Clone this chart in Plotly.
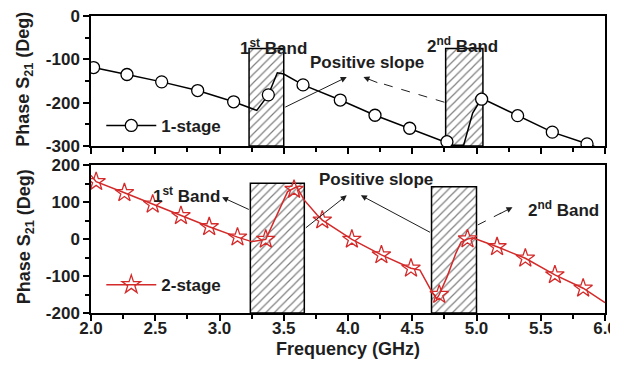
import plotly.graph_objects as go

# ---------------- data ----------------
# 1-stage (top panel)
top_line_x = [2.00, 2.02, 2.28, 2.55, 2.83, 3.11, 3.29, 3.38, 3.45, 3.50, 3.65, 3.94, 4.21, 4.48,
              4.77, 4.82, 4.90, 4.97, 5.04, 5.32, 5.59, 5.86, 6.00]
top_line_y = [-115, -119, -135, -152, -172, -198, -218, -182, -131, -134, -159, -194, -229, -259,
              -292, -298, -298, -224, -190, -230, -268, -295, -310]
top_mark_x = [2.02, 2.28, 2.55, 2.83, 3.11, 3.38, 3.65, 3.94, 4.21, 4.48, 4.77, 5.04, 5.32, 5.59, 5.86]
top_mark_y = [-119, -135, -152, -172, -198, -182, -159, -194, -229, -259, -290, -192, -230, -268, -295]

# 2-stage (bottom panel)
bot_line_x = [2.00, 2.04, 2.26, 2.48, 2.70, 2.92, 3.14, 3.25, 3.36, 3.45, 3.53, 3.60, 3.66, 3.76,
              3.80, 4.03, 4.26, 4.49, 4.56, 4.64, 4.69, 4.71, 4.77, 4.84, 4.88, 4.93, 4.97, 5.16,
              5.38, 5.61, 5.83, 6.00]
bot_line_y = [172, 155, 125, 94, 63, 33, 5, -7, -1, 70, 128, 141, 105, 65,
              51, -1, -43, -79, -84, -135, -162, -150, -103, -38, -8, 0, 3, -21,
              -52, -97, -133, -172]
bot_mark_x = [2.04, 2.26, 2.48, 2.70, 2.92, 3.14, 3.36, 3.58, 3.80, 4.03, 4.26, 4.49, 4.71, 4.93,
              5.16, 5.38, 5.61, 5.83]
bot_mark_y = [155, 125, 94, 63, 33, 5, -1, 134, 51, -1, -43, -79, -150, 0, -21, -52, -97, -133]

# hatched band boxes
top_band_start = [3.23, 4.76]
top_band_end = [3.50, 5.05]
top_band_low = [-300, -300]
top_band_high = [-75, -75]
bot_band_start = [3.24, 4.65]
bot_band_end = [3.66, 5.00]
bot_band_low = [-200, -200]
bot_band_high = [151, 141]

# ticks
x_ticks = [2.0, 2.5, 3.0, 3.5, 4.0, 4.5, 5.0, 5.5, 6.0]
x_tick_text = ["2.0", "2.5", "3.0", "3.5", "4.0", "4.5", "5.0", "5.5", "6.0"]
top_y_ticks = [0, -100, -200, -300]
top_y_tick_text = ["0", "-100", "-200", "-300"]
bot_y_ticks = [200, 100, 0, -100, -200]
bot_y_tick_text = ["200", "100", "0", "-100", "-200"]

FONT = "Arial, Liberation Sans, sans-serif"
INK = "#1e1e1e"
RED = "#d42a2a"

fig = go.Figure()


def band_bar(starts, ends, lows, highs, xa, ya):
    return go.Bar(
        x=[(s + e) / 2 for s, e in zip(starts, ends)],
        width=[e - s for s, e in zip(starts, ends)],
        base=lows,
        y=[h - l for h, l in zip(highs, lows)],
        xaxis=xa, yaxis=ya, showlegend=False, hoverinfo="skip",
        marker=dict(color="white", line=dict(color="black", width=1.5),
                    pattern=dict(shape="/", fgcolor="black", bgcolor="white", size=6, solidity=0.2)),
    )


fig.add_trace(band_bar(top_band_start, top_band_end, top_band_low, top_band_high, "x", "y"))
fig.add_trace(band_bar(bot_band_start, bot_band_end, bot_band_low, bot_band_high, "x2", "y2"))

circle_marker = dict(symbol="circle", size=12, color="white", line=dict(color="black", width=1.3))
star_marker = dict(symbol="star-open", size=14, color=RED, line=dict(color=RED, width=1.3))

# top series
fig.add_trace(go.Scatter(x=top_line_x, y=top_line_y, mode="lines", xaxis="x", yaxis="y",
                         line=dict(color="black", width=1.5), showlegend=False))
fig.add_trace(go.Scatter(x=top_mark_x, y=top_mark_y, mode="markers", xaxis="x", yaxis="y",
                         marker=circle_marker, showlegend=False))
fig.add_trace(go.Scatter(x=[None], y=[None], mode="lines+markers", name="<b>1-stage</b>", xaxis="x", yaxis="y",
                         line=dict(color="black", width=1.5), marker=circle_marker, legend="legend"))

# bottom series
fig.add_trace(go.Scatter(x=bot_line_x, y=bot_line_y, mode="lines", xaxis="x2", yaxis="y2",
                         line=dict(color=RED, width=1.5), showlegend=False))
fig.add_trace(go.Scatter(x=bot_mark_x, y=bot_mark_y, mode="markers", xaxis="x2", yaxis="y2",
                         marker=star_marker, showlegend=False))
fig.add_trace(go.Scatter(x=[None], y=[None], mode="lines+markers", name="<b>2-stage</b>", xaxis="x2", yaxis="y2",
                         line=dict(color=RED, width=1.5), marker=star_marker, legend="legend2"))

bold = lambda lst: ["<b>%s</b>" % t for t in lst]

axis_common = dict(showline=True, linecolor="black", linewidth=1.5, mirror=True, ticks="outside",
                   ticklen=6, tickwidth=1.5, tickcolor="black", showgrid=False, zeroline=False,
                   automargin=False, ticklabeloverflow="allow",
                   tickfont=dict(family=FONT, size=17, color=INK))

# page body keeps its default 8px margin, so the figure is sized to fill the 618x378 window
fig.update_layout(
    width=610, height=370,
    margin=dict(l=83, r=13, t=8, b=65),
    paper_bgcolor="white", plot_bgcolor="white",
    barmode="overlay",
    font=dict(family=FONT, color=INK),
    xaxis=dict(axis_common, domain=[0, 1], anchor="y", range=[2, 6], tickvals=x_ticks,
               showticklabels=False,
               minor=dict(dtick=0.25, tick0=2, ticks="outside", ticklen=4, tickcolor="black")),
    yaxis=dict(axis_common, domain=[0.5623, 1], anchor="x", range=[-300, 0],
               tickvals=top_y_ticks, ticktext=bold(top_y_tick_text),
               minor=dict(dtick=50, tick0=0, ticks="outside", ticklen=4, tickcolor="black")),
    xaxis2=dict(axis_common, domain=[0, 1], anchor="y2", range=[2, 6], tickvals=x_ticks,
                ticktext=bold(x_tick_text), ticklabelstandoff=-7,
                minor=dict(dtick=0.25, tick0=2, ticks="outside", ticklen=4, tickcolor="black")),
    yaxis2=dict(axis_common, domain=[0, 0.4983], anchor="x2", range=[-200, 200],
                tickvals=bot_y_ticks, ticktext=bold(bot_y_tick_text),
                minor=dict(dtick=50, tick0=0, ticks="outside", ticklen=4, tickcolor="black")),
    legend=dict(x=0.02, y=0.63, xanchor="left", yanchor="middle", bgcolor="rgba(0,0,0,0)",
                itemwidth=50, font=dict(family=FONT, size=17, color=INK)),
    legend2=dict(x=0.02, y=0.094, xanchor="left", yanchor="middle", bgcolor="rgba(0,0,0,0)",
                 itemwidth=50, font=dict(family=FONT, size=17, color=INK)),
)

ann_font = dict(family=FONT, size=17, color=INK)
title_font = dict(family=FONT, size=18, color=INK)
annotations = [
    # axis titles
    dict(x=0, y=0.785, xref="paper", yref="paper", xshift=-66, textangle=-90, showarrow=False,
         text="<b>Phase S<sub>21</sub> (Deg)</b>", font=title_font, xanchor="center", yanchor="middle"),
    dict(x=0, y=0.255, xref="paper", yref="paper", xshift=-66, textangle=-90, showarrow=False,
         text="<b>Phase S<sub>21</sub> (Deg)</b>", font=title_font, xanchor="center", yanchor="middle"),
    dict(x=0.5, y=0, xref="paper", yref="paper", yshift=-36, showarrow=False,
         text="<b>Frequency (GHz)</b>", font=title_font, xanchor="center", yanchor="middle"),
    # top panel texts
    dict(x=3.42, y=-72, xref="x", yref="y", text="<b>1<sup>st</sup> Band</b>", showarrow=False, font=ann_font),
    dict(x=4.89, y=-68, xref="x", yref="y", text="<b>2<sup>nd</sup> Band</b>", showarrow=False, font=ann_font),
    dict(x=4.15, y=-108, xref="x", yref="y", text="<b>Positive slope</b>", showarrow=False, font=ann_font),
    # top arrows
    dict(x=3.99, y=-141, ax=3.50, ay=-212, xref="x", yref="y", axref="x", ayref="y", text="",
         showarrow=True, arrowhead=2, arrowsize=1.2, arrowwidth=1, arrowcolor=INK),
    dict(x=4.12, y=-141, ax=4.24, ay=-155, xref="x", yref="y", axref="x", ayref="y", text="",
         showarrow=True, arrowhead=2, arrowsize=1.2, arrowwidth=1, arrowcolor=INK),
    # bottom panel texts
    dict(x=2.74, y=120, xref="x2", yref="y2", text="<b>1<sup>st</sup> Band</b>", showarrow=False, font=ann_font),
    dict(x=4.22, y=160, xref="x2", yref="y2", text="<b>Positive slope</b>", showarrow=False, font=ann_font),
    dict(x=5.68, y=80, xref="x2", yref="y2", text="<b>2<sup>nd</sup> Band</b>", showarrow=False, font=ann_font),
    # bottom arrows
    dict(x=3.02, y=113, ax=3.24, ay=78, xref="x2", yref="y2", axref="x2", ayref="y2", text="",
         showarrow=True, arrowhead=2, arrowsize=1.2, arrowwidth=1, arrowcolor=INK),
    dict(x=3.99, y=118, ax=3.66, ay=27, xref="x2", yref="y2", axref="x2", ayref="y2", text="",
         showarrow=True, arrowhead=2, arrowsize=1.2, arrowwidth=1, arrowcolor=INK),
    dict(x=4.10, y=118, ax=4.65, ay=16, xref="x2", yref="y2", axref="x2", ayref="y2", text="",
         showarrow=True, arrowhead=2, arrowsize=1.2, arrowwidth=1, arrowcolor=INK),
    dict(x=5.28, y=86, ax=5.17, ay=66, xref="x2", yref="y2", axref="x2", ayref="y2", text="",
         showarrow=True, arrowhead=2, arrowsize=1.2, arrowwidth=1, arrowcolor=INK),
]
fig.update_layout(annotations=annotations)

# dashed connector lines
fig.add_shape(type="line", x0=4.75, y0=-199, x1=4.22, y1=-152, xref="x", yref="y",
              line=dict(color=INK, width=1, dash="dash"))
fig.add_shape(type="line", x0=5.01, y0=38, x1=5.19, y1=70, xref="x2", yref="y2",
              line=dict(color=INK, width=1, dash="dash"))

fig.write_html("out.html")
